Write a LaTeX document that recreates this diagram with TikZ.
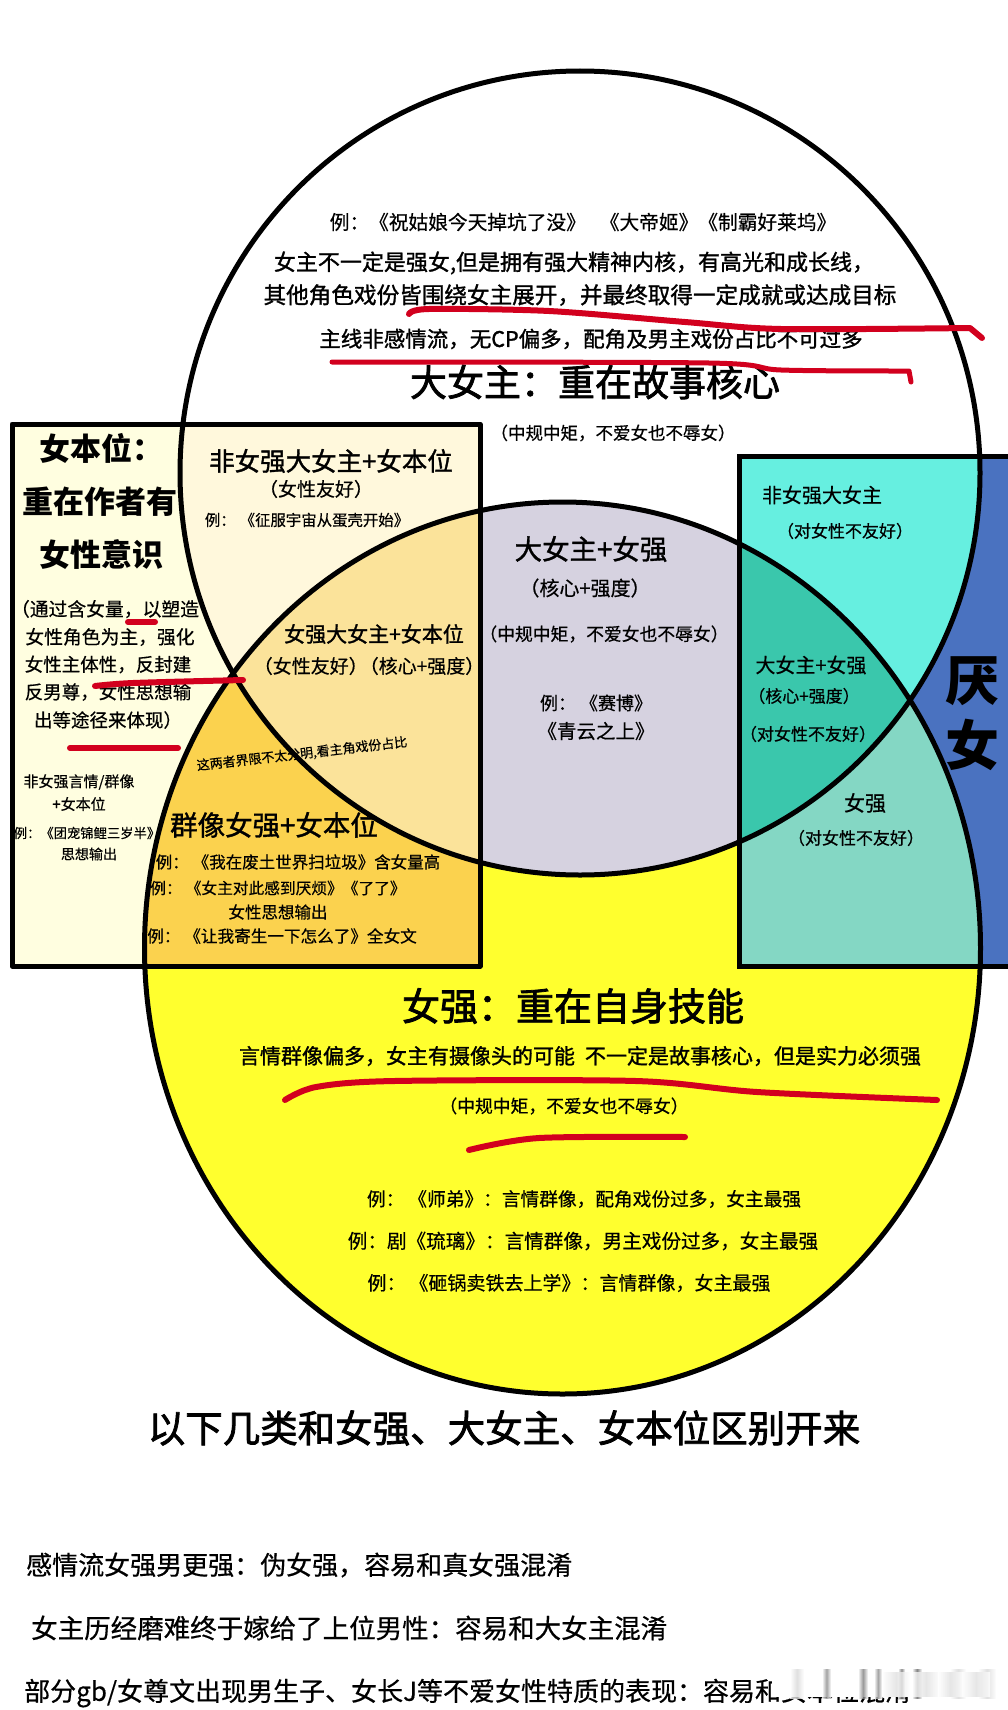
\documentclass[tikz,border=0pt]{standalone}
\usepackage{fontspec}
\setmainfont{Noto Sans CJK SC}
\newfontfamily\cjkh[FakeBold=2]{Noto Sans CJK SC}
\newfontfamily\cjkm[FakeBold=1.3]{Noto Sans CJK SC}
\newfontfamily\cjkt[FakeBold=0.5]{Noto Sans CJK SC}
\newcommand{\zc}{^^^^ff0c}
\newcommand{\zk}{^^^^ff1a}
\newcommand{\zl}{^^^^ff08}
\newcommand{\zr}{^^^^ff09}
\definecolor{cream}{HTML}{FFFEE0}
\definecolor{creamtop}{HTML}{FFF8DC}
\definecolor{triple}{HTML}{FBE39A}
\definecolor{amber}{HTML}{FBD24E}
\definecolor{lilac}{HTML}{D6D2E0}
\definecolor{cyanbox}{HTML}{66EFE0}
\definecolor{tealbox}{HTML}{3AC7AC}
\definecolor{mintbox}{HTML}{84D7C4}
\definecolor{yellowbox}{HTML}{FFFF2E}
\definecolor{bluebox}{HTML}{4A72C0}
\definecolor{marker}{HTML}{D2001E}
\def\topE{(580,473) ellipse [x radius=400pt,y radius=402pt]}
\def\lowE{(562.5,948) ellipse [x radius=418pt,y radius=446pt]}
\def\leftR{(12,424) rectangle (480,966)}
\def\rightR{(739,456) rectangle (1015,966)}
\tikzset{
 txt/.style={inner sep=0pt,font=\fontsize{#1}{#1}\selectfont\cjkt},
 med/.style={inner sep=0pt,font=\fontsize{#1}{#1}\selectfont\cjkm},
 hvy/.style={inner sep=0pt,font=\fontsize{#1}{#1}\selectfont\cjkh},
 bld/.style={inner sep=0pt,font=\fontsize{#1}{#1}\selectfont\bfseries},
 inkline/.style={draw=black,line width=5pt},
 redline/.style={draw=marker,line width=#1,line cap=round,line join=round},
 blurbar/.style={left color=white,right color=white,middle color=black!#1,draw=none,fill opacity=.8}
}
\begin{document}
\begin{tikzpicture}[x=1pt,y=-1pt]
\useasboundingbox (0,0) rectangle (1007,1710);
\fill[white] (0,0) rectangle (1007,1710);
% big areas
\fill[yellowbox] \lowE;
\fill[white] \topE;
\begin{scope}\clip \topE; \fill[lilac] \lowE; \end{scope}
% left box
\begin{scope}
\clip \leftR;
\fill[cream] \leftR;
\fill[creamtop] \topE;
\fill[amber] \lowE;
\begin{scope}\clip \topE; \fill[triple] \lowE; \end{scope}
\end{scope}
% right box
\begin{scope}
\clip \rightR;
\fill[bluebox] \rightR;
\fill[cyanbox] \topE;
\fill[mintbox] \lowE;
\begin{scope}\clip \topE; \fill[tealbox] \lowE; \end{scope}
\end{scope}
% text crossed by the black outline
\node[txt=13,rotate=6.5] (tBorder) at (302,754) {这两者界限不太分明,看主角戏份占比};
% outlines
\draw[inkline] \topE;
\draw[inkline] \lowE;
\draw[inkline,line join=round] \leftR;
\draw[inkline] \rightR;
% top circle
\node[txt=19.7] (a1) at (583,222) {例\zk{}《祝姑娘今天掉坑了没》\hspace{14pt}《大帝姬》《制霸好莱坞》};
\node[med=22] (a2) at (574,263) {女主不一定是强女,但是拥有强大精神内核\zc{}有高光和成长线\zc{}};
\node[med=22.6] (a3) at (580,295) {其他角色戏份皆围绕女主展开\zc{}并最终取得一定成就或达成目标};
\node[med=21.5] (a4) at (591,339) {主线非感情流\zc{}无CP偏多\zc{}配角及男主戏份占比不可过多};
\node[hvy=37] (a5) at (595,382) {大女主\zk{}重在故事核心};
\node[txt=17.5] (a6) at (613,433) {\zl{}中规中矩\zc{}不爱女也不辱女\zr{}};
% left box
\node[bld=31] (b1) at (101,448) {女本位\zk{}};
\node[bld=31] (b2) at (100,502) {重在作者有};
\node[bld=31] (b3) at (101,555) {女性意识};
\node[txt=18.8] (b4) at (105,609) {\zl{}通过含女量\zc{}以塑造};
\node[txt=18.8] (b5) at (110,637) {女性角色为主\zc{}强化};
\node[txt=18.5] (b6) at (108,664.5) {女性主体性\zc{}反封建};
\node[txt=18.5] (b7) at (108,692) {反男尊\zc{}女性思想输};
\node[txt=18.5] (b8) at (108,720) {出等途径来体现\zr{}};
\node[txt=15] (b9) at (79,782) {非女强言情/群像};
\node[txt=15] (b10) at (79,804) {+女本位};
\node[txt=13.3] (b11) at (87,833) {例\zk{}《团宠锦鲤三岁半》};
\node[txt=14] (b12) at (89,854) {思想输出};
\node[med=25.5] (c1) at (331,461) {非女强大女主+女本位};
\node[txt=19] (c2) at (316,489) {\zl{}女性友好\zr{}};
\node[txt=15.4] (c3) at (307,520) {例\zk{}\hspace{4pt}《征服宇宙从蛋壳开始》};
\node[med=21] (c4) at (374,634) {女强大女主+女本位};
\node[txt=19] (c5) at (369,666) {\zl{}女性友好\zr\hspace{-8pt}\zl{}核心+强度\zr{}};
\node[med=27.5] (c6) at (274,825) {群像女强+女本位};
\node[txt=16.5] (c7) at (298,862) {例\zk{}\hspace{4pt}《我在废土世界扫垃圾》含女量高};
\node[txt=15.7] (c8) at (278,888) {例\zk{}\hspace{4pt}《女主对此感到厌烦》《了了》};
\node[txt=16.5] (c9) at (278,912) {女性思想输出};
\node[txt=16.6] (c10) at (282,936) {例\zk{}\hspace{4pt}《让我寄生一下怎么了》全女文};
% centre
\node[med=27.5] (d1) at (591,549) {大女主+女强};
\node[txt=20] (d2) at (585,588) {\zl{}核心+强度\zr{}};
\node[txt=17.8] (d3) at (604,634) {\zl{}中规中矩\zc{}不爱女也不辱女\zr{}};
\node[txt=18] (d4) at (596,703) {例\zk{}\hspace{4pt}《赛博》};
\node[txt=19.5] (d5) at (596,731) {《青云之上》};
% right box
\node[txt=20] (e1) at (822,495) {非女强大女主};
\node[txt=17] (e2) at (845,531) {\zl{}对女性不友好\zr{}};
\node[txt=20] (e3) at (811,665) {大女主+女强};
\node[txt=17] (e4) at (804,696) {\zl{}核心+强度\zr{}};
\node[txt=17] (e5) at (808,734) {\zl{}对女性不友好\zr{}};
\node[txt=21] (e6) at (865,803) {女强};
\node[txt=17] (e7) at (856,838) {\zl{}对女性不友好\zr{}};
\node[bld=54] (e8) at (972,681) {厌};
\node[bld=54] (e9) at (972,745) {女};
% lower circle
\node[hvy=38] (f1) at (573,1006) {女强\zk{}重在自身技能};
\node[med=21] (f2) at (580,1056) {言情群像偏多\zc{}女主有摄像头的可能\hspace{10pt}不一定是故事核心\zc{}但是实力必须强};
\node[txt=17.8] (f3) at (564,1106) {\zl{}中规中矩\zc{}不爱女也不辱女\zr{}};
\node[txt=18.7] (f4) at (584,1199) {例\zk{}\hspace{4pt}《师弟》\zk{}言情群像\zc{}配角戏份过多\zc{}女主最强};
\node[txt=19.6] (f5) at (583,1241) {例\zk{}剧《琉璃》\zk{}言情群像\zc{}男主戏份过多\zc{}女主最强};
\node[txt=19] (f6) at (569,1283) {例\zk{}\hspace{4pt}《砸锅卖铁去上学》\zk{}言情群像\zc{}女主最强};
% below
\node[hvy=37.5] (g1) at (504,1428) {以下几类和女强、大女主、女本位区别开来};
\node[txt=26,anchor=west] (g2) at (26,1565) {感情流女强男更强\zk{}伪女强\zc{}容易和真女强混淆};
\node[txt=26.5,anchor=west] (g3) at (31,1628) {女主历经磨难终于嫁给了上位男性\zk{}容易和大女主混淆};
\node[txt=26,anchor=west] (g4) at (24,1693) {部分gb/女尊文出现男生子、女长J等不爱女性特质的表现\zk{}容易和女本位混淆};
% blurred corner mark over the last line
\fill[white] (772,1668) rectangle (1000,1697);
\foreach \xa/\w/\d in {790/14/15, 822/9/45, 858/10/50, 874/8/45, 898/7/55, 912/10/60, 950/16/15, 978/18/15}{
  \shade[blurbar=\d] (\xa,1669) rectangle (\xa+\w,1698);
}
\foreach \xa/\w in {882/28, 912/28, 938/24, 962/28}{
  \shade[blurbar=12] (\xa,1672) rectangle (\xa+\w,1696);
}
% red marks
\draw[redline=6pt] plot[smooth] coordinates {(409,314) (429,309) (549,311) (685,322) (781,329) (970,328)} -- (982,338);
\draw[redline=5pt] plot[smooth] coordinates {(332,362) (709,363) (781,370) (909,371)} -- (911,382);
\draw[redline=6pt] (128,622) -- (155,622);
\draw[redline=6pt] plot[smooth] coordinates {(95,686) (133,683) (243,680)};
\draw[redline=6pt] (70,748) -- (178,748);
\draw[redline=6pt] plot[smooth] coordinates {(285,1100) (316,1087) (394,1081) (636,1081) (757,1092) (937,1100)};
\draw[redline=6pt] plot[smooth] coordinates {(469,1150) (539,1138) (685,1137)};
\end{tikzpicture}
\end{document}
